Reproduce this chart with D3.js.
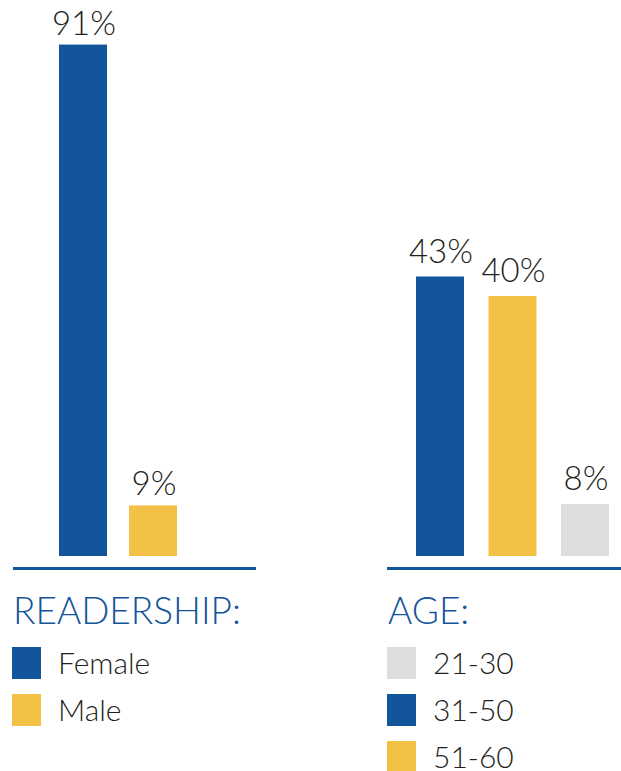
<!DOCTYPE html>
<html>
<head>
<meta charset="utf-8">
<script src="https://cdn.jsdelivr.net/npm/d3@7"></script>
<style>
  body { margin: 0; background: #fff; }
  svg { display: block; font-family: Lato, 'Noto Sans', sans-serif; font-weight: 300; }
</style>
</head>
<body>
<div id="chart"></div>
<script>
/* Readership panel */
const readershipCategories = ['Female', 'Male']
const readershipValues = [91, 9]

/* Age panel: bars are drawn in a different order than the legend */
const ageCategories = ['21-30', '31-50', '51-60']
const ageValues = [8, 43, 40]
const ageBarOrder = ['31-50', '51-60', '21-30']

const colors = {
  Female: '#12559b',
  Male: '#f2c145',
  '21-30': '#dcdddf',
  '31-50': '#12559b',
  '51-60': '#f2c145'
}

const width = 621
const height = 771
const baseY = 556
const textColor = '#231f20'
const blue = '#12559b'

const svg = d3.select('#chart').append('svg')
  .attr('width', width)
  .attr('height', height)

const drawPanel = (opts) => {
  const { cats, values, order, x0, x1, pad, yMax, yTop, gap, lineX0, lineX1, title, titleX, legendOrder } = opts
  const valueOf = c => values[cats.indexOf(c)]

  const x = d3.scaleBand()
    .domain(order)
    .range([x0, x1])
    .paddingInner(pad)
    .paddingOuter(0)

  const y = d3.scaleLinear()
    .domain([0, yMax])
    .range([baseY, yTop])

  const g = svg.append('g')

  g.selectAll('rect.bar')
    .data(order)
    .enter().append('rect')
    .attr('class', 'bar')
    .attr('x', d => x(d))
    .attr('y', d => y(valueOf(d)))
    .attr('width', x.bandwidth())
    .attr('height', d => baseY - y(valueOf(d)))
    .attr('fill', d => colors[d])

  g.selectAll('text.value')
    .data(order)
    .enter().append('text')
    .attr('class', 'value')
    .attr('x', d => x(d) + x.bandwidth() / 2 + 1)
    .attr('y', d => y(valueOf(d)) - gap)
    .attr('text-anchor', 'middle')
    .attr('font-size', 33)
    .attr('fill', textColor)
    .text(d => valueOf(d) + '%')

  /* baseline rule */
  g.append('line')
    .attr('x1', lineX0)
    .attr('x2', lineX1)
    .attr('y1', 568.5)
    .attr('y2', 568.5)
    .attr('stroke', blue)
    .attr('stroke-width', 3)

  g.append('text')
    .attr('x', titleX)
    .attr('y', 624)
    .attr('font-size', 37)
    .attr('fill', blue)
    .text(title)

  const legend = g.selectAll('g.legend')
    .data(legendOrder)
    .enter().append('g')
    .attr('class', 'legend')
    .attr('transform', (d, i) => `translate(${titleX - 1},${647 + i * 47})`)

  legend.append('rect')
    .attr('width', 29)
    .attr('height', 32)
    .attr('fill', d => colors[d])

  legend.append('text')
    .attr('x', 46)
    .attr('y', 27)
    .attr('font-size', 30)
    .attr('fill', textColor)
    .text(d => d)
}

drawPanel({
  cats: readershipCategories,
  values: readershipValues,
  order: readershipCategories,
  x0: 59,
  x1: 177,
  pad: 22 / 70,
  yMax: 100,
  yTop: baseY - 562,
  gap: 10,
  lineX0: 13,
  lineX1: 256,
  title: 'READERSHIP:',
  titleX: 13,
  legendOrder: readershipCategories
})

drawPanel({
  cats: ageCategories,
  values: ageValues,
  order: ageBarOrder,
  x0: 416,
  x1: 609,
  pad: 0.338,
  yMax: 50,
  yTop: baseY - 325,
  gap: 14,
  lineX0: 387,
  lineX1: 621,
  title: 'AGE:',
  titleX: 388,
  legendOrder: ageCategories
})
</script>
</body>
</html>
